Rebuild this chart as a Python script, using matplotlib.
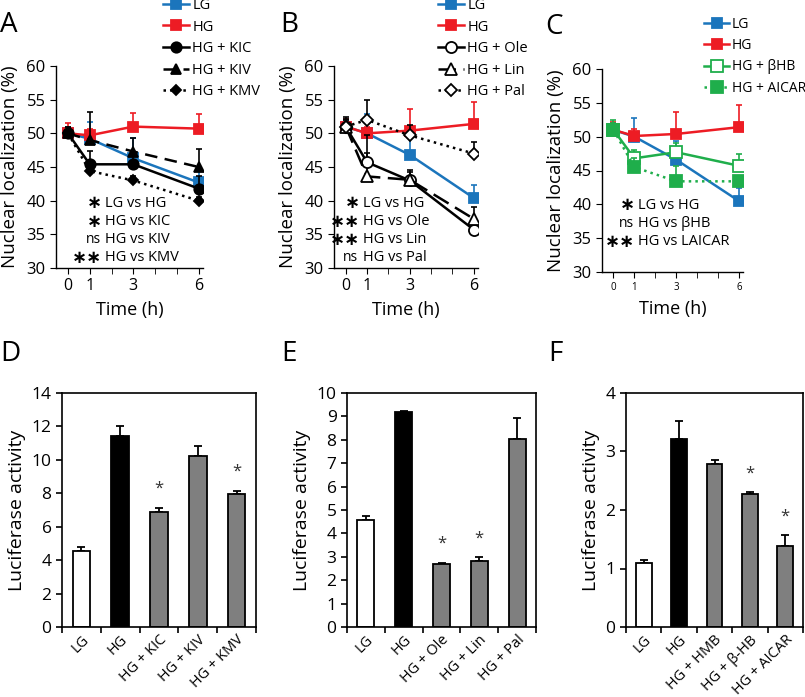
import matplotlib
matplotlib.use('Agg')
import matplotlib.pyplot as plt
import numpy as np

plt.rcParams['font.family'] = ['Open Sans', 'DejaVu Sans']

BLUE = '#1b75bc'
RED = '#ed1c24'
GREEN = '#1fae4b'
GREY = '#7f7f7f'

# ---- time course data (top row) ----
time_h = [0, 1, 3, 6]

a_lg = [50, 49.2, 46.3, 42.7]
a_lg_err = [0.8, 2.5, 3.0, 1.9]
a_hg = [50, 49.7, 51.0, 50.7]
a_hg_err = [1.5, 1.0, 2.0, 2.1]
a_kic = [50, 45.4, 45.4, 41.8]
a_kic_err = [1.0, 2.0, 1.2, 1.9]
a_kiv = [50, 49.0, 47.3, 45.0]
a_kiv_err = [1.0, 4.1, 2.0, 2.6]
a_kmv = [50, 44.4, 43.0, 40.0]
a_kmv_err = [0.5, 0.8, 0.6, 0.5]

b_lg = [51, 50, 46.8, 40.4]
b_lg_err = [1.0, 2.8, 2.5, 1.9]
b_hg = [51, 50, 50.4, 51.4]
b_hg_err = [1.2, 1.0, 3.2, 3.3]
b_ole = [51, 45.7, 43.0, 35.7]
b_ole_err = [1.2, 4.0, 1.2, 1.5]
b_lin = [51, 43.6, 43.1, 37.3]
b_lin_err = [1.0, 3.5, 1.5, 1.7]
b_pal = [51, 52.0, 49.7, 47.0]
b_pal_err = [1.5, 3.0, 1.5, 1.7]

c_lg = [51, 50, 46.6, 40.5]
c_lg_err = [1.0, 2.8, 2.7, 1.9]
c_hg = [51, 50.1, 50.4, 51.4]
c_hg_err = [1.2, 1.1, 3.2, 3.3]
c_bhb = [51, 46.8, 47.7, 45.7]
c_bhb_err = [1.5, 1.2, 1.3, 1.8]
c_aicar = [51, 45.5, 43.4, 43.4]
c_aicar_err = [1.0, 1.3, 2.2, 0.8]

a_stats = [('∗', 'LG vs HG'), ('∗', 'HG vs KIC'), ('ns', 'HG vs KIV'), ('∗∗', 'HG vs KMV')]
b_stats = [('∗', 'LG vs HG'), ('∗∗', 'HG vs Ole'), ('∗∗', 'HG vs Lin'), ('ns', 'HG vs Pal')]
c_stats = [('∗', 'LG vs HG'), ('ns', 'HG vs βHB'), ('∗∗', 'HG vs LAICAR')]

# ---- luciferase data (bottom row) ----
d_labels = ['LG', 'HG', 'HG + KIC', 'HG + KIV', 'HG + KMV']
d_vals = [4.56, 11.4, 6.88, 10.26, 7.94]
d_err = [0.24, 0.64, 0.26, 0.58, 0.22]
d_star = [False, False, True, False, True]

e_labels = ['LG', 'HG', 'HG + Ole', 'HG + Lin', 'HG + Pal']
e_vals = [4.56, 9.19, 2.71, 2.82, 8.05]
e_err = [0.18, 0.02, 0.04, 0.17, 0.9]
e_star = [False, False, True, True, False]

f_labels = ['LG', 'HG', 'HG + HMB', 'HG + β-HB', 'HG + AICAR']
f_vals = [1.09, 3.21, 2.79, 2.27, 1.38]
f_err = [0.05, 0.31, 0.07, 0.03, 0.19]
f_star = [False, False, False, True, True]

W, H = 805, 697
fig = plt.figure(figsize=(W / 100, H / 100), dpi=100)


def px_axes(left, right, top, bottom):
    return fig.add_axes([left / W, 1 - bottom / H, (right - left) / W, (bottom - top) / H])


def series(ax, y, err, color, marker, ls, label, mfc=None, ms=7, ecolor=None, z=3):
    ax.errorbar(time_h, y, yerr=[np.zeros(len(err)), err], fmt='none',
                ecolor=ecolor or color, elinewidth=1.2, capsize=2, capthick=1.2, zorder=z - 1)
    ax.plot(time_h, y, color=color, marker=marker, ls=ls, lw=1.8, ms=ms,
            mfc=mfc or color, mec=color, mew=1.3, label=label, zorder=z)


def time_axes(ax, small_ticks=False):
    ax.set_xlim(-0.55, 6.2)
    ax.set_ylim(30, 60)
    ax.set_yticks(range(30, 61, 5))
    ax.set_xticks([0, 1, 3, 6])
    ax.set_xticks([2, 4, 5], minor=True)
    for s in ['top', 'right']:
        ax.spines[s].set_visible(False)
    for s in ['left', 'bottom']:
        ax.spines[s].set_linewidth(1.0)
    ax.tick_params(axis='y', labelsize=12, length=4)
    ax.tick_params(axis='x', which='both', length=4, labelsize=7 if small_ticks else 11.5)
    ax.set_ylabel('Nuclear localization (%)', fontsize=13.5, labelpad=5)
    ax.set_xlabel('Time (h)', fontsize=13, labelpad=5)


def stats_text(ax, rows, x_text, y0):
    for i, (mark, txt) in enumerate(rows):
        y = y0 - i * 0.09
        if mark == 'ns':
            ax.text(x_text - 0.03, y, mark, transform=ax.transAxes, ha='right', va='center', fontsize=10)
        else:
            ax.text(x_text - 0.02, y, mark, transform=ax.transAxes, ha='right', va='center',
                    fontsize=13, fontweight='bold', family='DejaVu Sans')
        ax.text(x_text, y, txt, transform=ax.transAxes, ha='left', va='center', fontsize=10.5)


def legend_at(ax, x_px, y_px, fs=10.5):
    ax.legend(loc='upper left', bbox_to_anchor=(x_px / W, 1 - y_px / H), bbox_transform=fig.transFigure,
              frameon=False, fontsize=fs, handlelength=1.8, handletextpad=0.2, labelspacing=0.45,
              borderpad=0, borderaxespad=0, numpoints=1)


# Panel A
ax = px_axes(56, 203, 66, 268)
series(ax, a_lg, a_lg_err, BLUE, 's', '-', 'LG', z=3)
series(ax, a_hg, a_hg_err, RED, 's', '-', 'HG', z=4)
series(ax, a_kic, a_kic_err, 'black', 'o', '-', 'HG + KIC', ms=7.5, z=5)
series(ax, a_kiv, a_kiv_err, 'black', '^', (0, (5, 3)), 'HG + KIV', z=5)
series(ax, a_kmv, a_kmv_err, 'black', 'D', ':', 'HG + KMV', ms=5, z=5)
time_axes(ax)
stats_text(ax, a_stats, 0.335, 0.32)
legend_at(ax, 163, -2)

# Panel B
ax = px_axes(334, 478, 66, 268)
series(ax, b_lg, b_lg_err, BLUE, 's', '-', 'LG', z=3)
series(ax, b_hg, b_hg_err, RED, 's', '-', 'HG', z=4)
series(ax, b_ole, b_ole_err, 'black', 'o', '-', 'HG + Ole', mfc='white', ms=8, z=5)
series(ax, b_lin, b_lin_err, 'black', '^', (0, (7, 3)), 'HG + Lin', mfc='white', ms=8, z=5)
series(ax, b_pal, b_pal_err, 'black', 'D', ':', 'HG + Pal', mfc='white', ms=6.5, z=5)
time_axes(ax)
stats_text(ax, b_stats, 0.2, 0.32)
legend_at(ax, 438, -2)

# Panel C
ax = px_axes(602, 743, 69, 272)
series(ax, c_lg, c_lg_err, BLUE, 's', '-', 'LG', z=3)
series(ax, c_hg, c_hg_err, RED, 's', '-', 'HG', z=4)
series(ax, c_bhb, c_bhb_err, GREEN, 's', '-', 'HG + βHB', mfc='white', ms=8, z=5)
series(ax, c_aicar, c_aicar_err, GREEN, 's', ':', 'HG + AICAR', ms=8, z=6)
time_axes(ax, small_ticks=True)
stats_text(ax, c_stats, 0.255, 0.33)
legend_at(ax, 704, 17, fs=10)


def bar_panel(ax, labels, vals, err, stars, ymax, ystep):
    x = np.arange(len(vals))
    colors = ['white', 'black'] + [GREY] * (len(vals) - 2)
    ax.bar(x, vals, width=0.45, color=colors, edgecolor='black', linewidth=1.3, zorder=2)
    ax.errorbar(x, vals, yerr=[np.zeros(len(err)), err], fmt='none', ecolor='black',
                elinewidth=1.3, capsize=3, capthick=1.3, zorder=1)
    for xi, v, e, s in zip(x, vals, err, stars):
        if s:
            ax.text(xi, v + e + ymax * 0.08, '*', ha='center', va='center', fontsize=12, color='#333333')
    ax.set_xlim(-0.5, len(vals) - 0.5)
    ax.set_ylim(0, ymax)
    ax.set_yticks(np.arange(0, ymax + 0.01, ystep))
    ax.set_xticks(x)
    ax.set_xticklabels(labels, rotation=45, ha='right', rotation_mode='anchor', fontsize=10.5)
    ax.set_xticks(np.arange(-0.5, len(vals)), minor=True)
    ax.tick_params(axis='x', which='major', length=0, pad=4)
    ax.tick_params(axis='x', which='minor', length=4, width=1.2)
    ax.tick_params(axis='y', length=4, width=1.2, labelsize=12.5)
    for s in ax.spines.values():
        s.set_linewidth(1.2)
    ax.set_ylabel('Luciferase activity', fontsize=14)


ax = px_axes(62, 256, 393, 627)
bar_panel(ax, d_labels, d_vals, d_err, d_star, 14, 2)
ax = px_axes(347, 536, 393, 627)
bar_panel(ax, e_labels, e_vals, e_err, e_star, 10, 1)
ax = px_axes(626, 803, 393, 627)
bar_panel(ax, f_labels, f_vals, f_err, f_star, 4, 1)

# panel letters
for letter, xp, yp in [('A', 0, 11), ('B', 280, 11), ('C', 545, 13),
                       ('D', 0, 340), ('E', 281, 340), ('F', 548, 340)]:
    fig.text(xp / W, 1 - yp / H, letter, fontsize=20, va='top', ha='left')

fig.savefig('out.png', dpi=100)
